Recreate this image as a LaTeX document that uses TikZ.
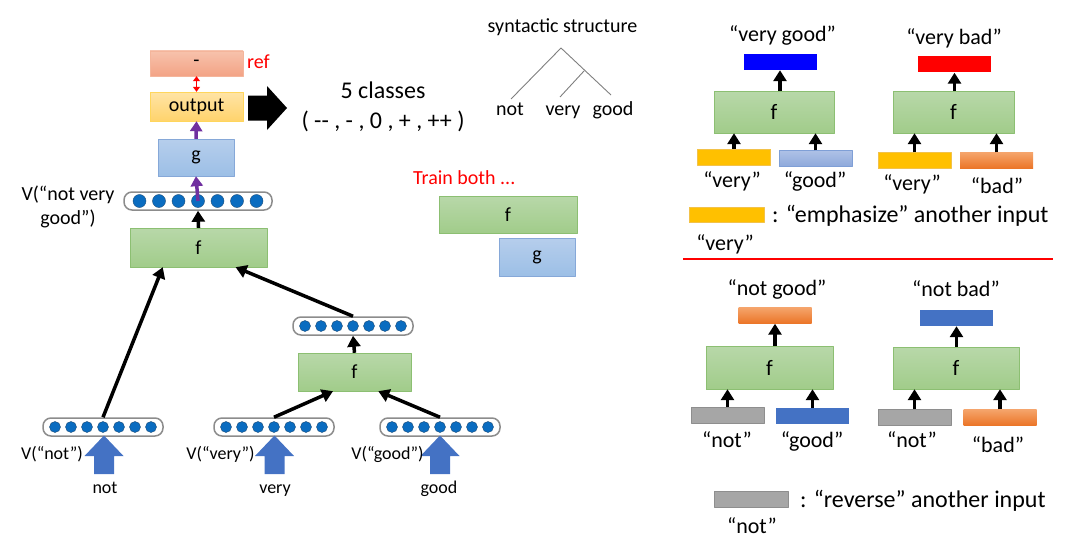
\documentclass[tikz,border=0pt]{standalone}
\usepackage{fontspec}
\setmainfont{Carlito}
\usetikzlibrary{arrows.meta,calc}
\definecolor{ftop}{HTML}{B8D8A9}
\definecolor{fbot}{HTML}{A1CC8A}
\definecolor{fline}{HTML}{8CBF72}
\definecolor{gtop}{HTML}{B6CEEC}
\definecolor{gbot}{HTML}{9CBFE6}
\definecolor{gline}{HTML}{86A8D8}
\definecolor{otop}{HTML}{FFE4A6}
\definecolor{obot}{HTML}{FFD36C}
\definecolor{oline}{HTML}{FFD65C}
\definecolor{rtop}{HTML}{F7C2AC}
\definecolor{rbot}{HTML}{F3A385}
\definecolor{rline}{HTML}{F4B59B}
\definecolor{amber}{HTML}{FFC000}
\definecolor{amberline}{HTML}{F2C24A}
\definecolor{orgtop}{HTML}{F5A46B}
\definecolor{orgbot}{HTML}{EB7527}
\definecolor{steel}{HTML}{4472C4}
\definecolor{lbtop}{HTML}{AEC1E6}
\definecolor{lbbot}{HTML}{8EA9DB}
\definecolor{lbline}{HTML}{7F9FD6}
\definecolor{greybar}{HTML}{A6A6A6}
\definecolor{greyline}{HTML}{8E8E8E}
\definecolor{purp}{HTML}{7030A0}
\definecolor{dotc}{HTML}{0A6CC0}
\definecolor{dotl}{HTML}{1F4E79}
\definecolor{vline}{HTML}{8C8C8C}
\definecolor{treec}{HTML}{7F7F7F}
\begin{document}
\begin{tikzpicture}[x=1pt, y=-1pt, line join=round, font=\fontsize{20}{24}\selectfont,
	wh/.style 2 args={minimum width=#1pt, minimum height=#2pt, inner sep=0pt},
	fbox/.style={draw=fline, top color=ftop, bottom color=fbot},
	gbox/.style={draw=gline, top color=gtop, bottom color=gbot},
	bar/.style={wh={73}{16}},
	vec/.style={draw=vline, line width=1.5pt, fill=white, rounded corners=8pt, minimum height=18pt, inner sep=0pt},
	dot/.style={fill=dotc, draw=dotl, line width=0.4pt},
	arr/.style={-{Triangle[length=11pt,width=13pt]}, line width=3.5pt},
	parr/.style={-{Triangle[length=10pt,width=12pt]}, line width=3.5pt, purp},
	lbl/.style={font=\fontsize{22}{26}\selectfont, anchor=base, inner sep=0pt},
	key/.style={font=\fontsize{24}{28}\selectfont, anchor=base west, inner sep=0pt},
	vlbl/.style={font=\fontsize{18}{22}\selectfont, anchor=base, inner sep=0pt},
	tlbl/.style={font=\fontsize{20}{24}\selectfont, anchor=base, inner sep=0pt}]
	\useasboundingbox (0,0) rectangle (1068,543);
	% left tree
	\node[wh={93}{25}, draw=rline, top color=rtop, bottom color=rbot] (ref) at (196.5,63.5) {-};
	\node[wh={93}{29}, draw=oline, top color=otop, bottom color=obot] (out) at (196.5,106.5) {output};
	\node[wh={76}{37}, gbox] (g) at (196,157.5) {g};
	\node[vec, minimum width=148pt] (vnvg) at (198,201) {};
	\node[wh={137}{39}, fbox] (f1) at (198.5,247.5) {f};
	\node[vec, minimum width=120pt] (vvg) at (353,326) {};
	\node[wh={113}{38}, fbox] (f2) at (354.5,372) {f};
	\node[vec, minimum width=120pt] (vnot) at (103,427) {};
	\node[vec, minimum width=120pt] (vvery) at (274,427) {};
	\node[vec, minimum width=120pt] (vgood) at (440,427) {};
	\foreach \nm/\sep/\rad in {vnvg/19.5/6.5, vvg/16/5.5, vnot/16/5.5, vvery/16/5.5, vgood/16/5.5}
	\foreach \i in {-3,...,3}
	\filldraw[dot] (\nm) ++({\i*\sep},0) circle (\rad pt);
	\foreach \x in {104,274.5,440}
	\fill[steel] (\x-10,474) -- (\x-10,456) -- (\x-19.5,456) -- (\x,435.5) -- (\x+19.5,456) -- (\x+10,456) -- (\x+10,474) -- cycle;
	\node[tlbl, align=center, anchor=center] (lnvg) at (68,207) {V(“not very\\good”)};
	\node[vlbl] (lnot) at (52,459) {V(“not”)};
	\node[vlbl] (lvery) at (220.5,459) {V(“very”)};
	\node[vlbl] (lgood) at (387.5,459) {V(“good”)};
	\node[vlbl] (wnot) at (105,493) {not};
	\node[vlbl] (wvery) at (275,493) {very};
	\node[vlbl] (wgood) at (439,493) {good};
	\node[tlbl, red, anchor=base west] (lref) at (247,68) {ref};
	\draw[{Triangle[length=5pt,width=7pt]}-{Triangle[length=5pt,width=7pt]}, line width=1.5pt, red] (ref.south) -- (out.north);
	\draw[parr] (g.north) -- (out.south);
	\draw[parr] (vnvg.center) -- (g.south);
	\draw[arr] (f1.north) -- (vnvg.south);
	\draw[arr] (f2.north) -- (vvg.south);
	\draw[arr] (vnot.north) -- ($(f1.south west)!0.24!(f1.south east)$);
	\draw[arr] (vvg.north) -- ($(f1.south west)!0.77!(f1.south east)$);
	\draw[arr] (vvery.north) -- ($(f2.south west)!0.31!(f2.south east)$);
	\draw[arr] (vgood.north) -- ($(f2.south west)!0.71!(f2.south east)$);
	% classes
	\fill (248,95.5) -- (267,95.5) -- (267,86) -- (287,108) -- (267,130) -- (267,120.5) -- (248,120.5) -- cycle;
	\node[lbl, font=\fontsize{24}{28}\selectfont] (cls) at (383,99) {5 classes};
	\node[lbl, font=\fontsize{24}{28}\selectfont] (clsv) at (383,128) {( -{}- , - , 0 , + , ++ )};
	% syntactic structure
	\path
	(561,48) coordinate (T)
	(511,99) coordinate (Tn)
	(584,71) coordinate (Tb)
	(560,97) coordinate (Tv)
	(611,95) coordinate (Tg);
	\draw[treec, line width=0.9pt] (Tn) -- (T) -- (Tg) (Tb) -- (Tv);
	\node[tlbl] (syn) at (562.5,33) {syntactic structure};
	\foreach \x/\w in {510/not, 563/very, 613/good}
	\node[tlbl] (t\w) at (\x,115) {\w};
	% train both
	\node[tlbl, red, anchor=base west] (train) at (413,184) {Train both ...};
	\node[wh={138}{37}, fbox] (tf) at (508,214.5) {f};
	\node[wh={76}{38}, gbox] (tg) at (537,257) {g};
	% very good / very bad
	\begin{scope}[font=\fontsize{22}{26}\selectfont]
	\node[bar, fill=blue] (outVG) at (780,62) {};
	\node[wh={120}{42}, fbox] (fVG) at (774,112) {f};
	\node[bar, fill=amber, draw=amberline] (inVery1) at (734,157) {};
	\node[bar, draw=lbline, top color=lbtop, bottom color=lbbot] (inGood1) at (815.5,158.5) {};
	\node[bar, fill=red] (outVB) at (954.5,64.5) {};
	\node[wh={121}{42}, fbox] (fVB) at (953.5,112) {f};
	\node[bar, fill=amber, draw=amberline] (inVery2) at (914.5,160.5) {};
	\node[bar, top color=orgtop, bottom color=orgbot] (inBad2) at (996.5,160.5) {};
	\end{scope}
	\node[lbl] (tVG) at (782.5,42) {“very good”};
	\node[lbl] (tVB) at (954,45) {“very bad”};
	\node[lbl] (lVery1) at (732,187) {“very”};
	\node[lbl] (lGood1) at (815,187) {“good”};
	\node[lbl] (lVery2) at (912,190) {“very”};
	\node[lbl] (lBad2) at (997,193) {“bad”};
	\node[wh={75}{15}, fill=amber, draw=amberline] (keyVery) at (726.5,215) {};
	\node[key] (kVery) at (772,222) {: “emphasize” another input};
	\node[lbl] (kVeryW) at (725,250) {“very”};
	\draw[red, line width=1.5pt] (683,259) -- (1053,259);
	% not good / not bad
	\begin{scope}[font=\fontsize{22}{26}\selectfont]
	\node[bar, top color=orgtop, bottom color=orgbot] (outNG) at (775,315.5) {};
	\node[wh={127}{43}, fbox] (fNG) at (769.5,367.5) {f};
	\node[bar, fill=greybar, draw=greyline] (inNot1) at (727.5,415) {};
	\node[bar, fill=steel] (inGood3) at (812.5,416) {};
	\node[bar, fill=steel] (outNB) at (956.5,318) {};
	\node[wh={126}{42}, fbox] (fNB) at (956,368) {f};
	\node[bar, fill=greybar, draw=greyline] (inNot2) at (914.5,417.5) {};
	\node[bar, top color=orgtop, bottom color=orgbot] (inBad4) at (1000,417.5) {};
	\end{scope}
	\node[lbl] (tNG) at (777,295) {“not good”};
	\node[lbl] (tNB) at (956,296) {“not bad”};
	\node[lbl] (lNot1) at (727,447) {“not”};
	\node[lbl] (lGood3) at (812,447) {“good”};
	\node[lbl] (lNot2) at (912,447) {“not”};
	\node[lbl] (lBad4) at (998,452) {“bad”};
	\node[wh={74}{16}, fill=greybar, draw=greyline] (keyNot) at (751,499) {};
	\node[key] (kNot) at (800,507) {: “reverse” another input};
	\node[lbl] (kNotW) at (752,533) {“not”};
	\foreach \a/\b in {inVery1/fVG, inGood1/fVG, inVery2/fVB, inBad2/fVB, inNot1/fNG, inGood3/fNG, inNot2/fNB, inBad4/fNB}
	\draw[arr] (\a.north) -- (\a.north |- \b.south);
	\foreach \a/\b in {fVG/outVG, fVB/outVB, fNG/outNG, fNB/outNB}
	\draw[arr] (\b.south |- \a.north) -- (\b.south);
\end{tikzpicture}
\end{document}
